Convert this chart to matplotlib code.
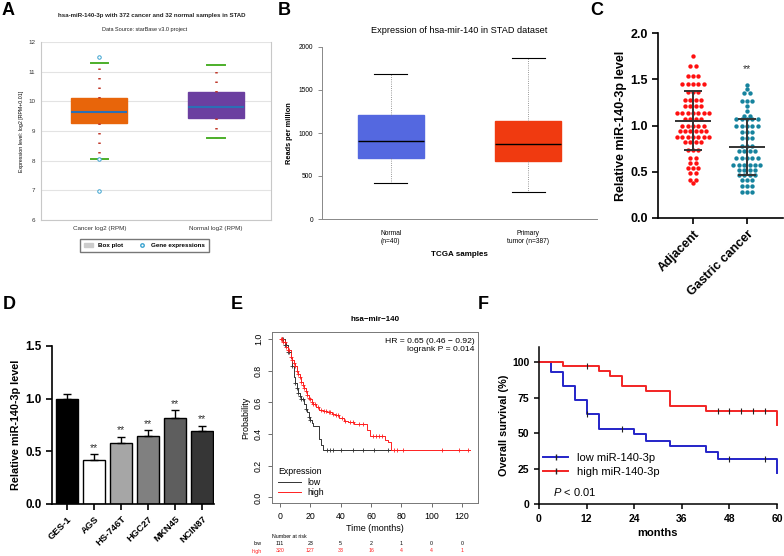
import matplotlib
matplotlib.use("Agg")
import matplotlib.pyplot as plt
import matplotlib.transforms as mtransforms
from matplotlib.patches import Patch
from matplotlib.lines import Line2D
import numpy as np

plt.rcParams["font.family"] = ["Liberation Sans", "DejaVu Sans"]
plt.rcParams["mathtext.fontset"] = "custom"
plt.rcParams["mathtext.it"] = "Liberation Sans:italic"
plt.rcParams["mathtext.rm"] = "Liberation Sans"

# ---- A: starBase box plot
a_groups = ["Cancer log2 (RPM)", "Normal log2 (RPM)"]
a_q1 = [9.28, 9.43]
a_med = [9.65, 9.82]
a_q3 = [10.10, 10.33]
a_lo = [8.05, 8.75]
a_hi = [11.30, 11.22]
a_outliers = [[11.50, 8.05, 6.97], []]
a_colors = ["#E8650A", "#6B3FA0"]

# ---- B: TCGA box plot
b_groups = ["Normal\n(n=40)", "Primary\ntumor (n=387)"]
b_q1 = [710, 670]
b_med = [905, 870]
b_q3 = [1210, 1135]
b_lo = [420, 310]
b_hi = [1685, 1870]
b_colors = ["#5468E0", "#F03A10"]

# ---- C: tissue scatter
c_groups = ["Adjacent", "Gastric cancer"]
c_adjacent = [1.75, 1.64, 1.64, 1.53, 1.53, 1.53,
              1.45, 1.45, 1.45, 1.45, 1.45, 1.36, 1.36, 1.36,
              1.28, 1.28, 1.28, 1.28, 1.21, 1.21, 1.21, 1.21,
              1.14, 1.14, 1.14, 1.14, 1.14, 1.14, 1.14,
              1.07, 1.07, 1.07, 1.07, 0.99, 0.99, 0.99, 0.99, 0.99,
              0.94, 0.94, 0.94, 0.94, 0.94, 0.94,
              0.88, 0.88, 0.88, 0.88, 0.88, 0.88, 0.88,
              0.82, 0.82, 0.82, 0.82, 0.74, 0.74, 0.74,
              0.65, 0.65, 0.60, 0.60, 0.54, 0.54, 0.54,
              0.49, 0.49, 0.41, 0.41, 0.38]
c_gastric = [1.44, 1.40, 1.35, 1.35, 1.26, 1.26, 1.26, 1.21, 1.16,
             1.10, 1.10, 1.07, 1.07, 1.07, 1.07, 1.07,
             0.99, 0.99, 0.99, 0.99, 0.99, 0.93, 0.93, 0.93,
             0.86, 0.86, 0.86, 0.78, 0.78, 0.78, 0.72, 0.72, 0.72, 0.72,
             0.645, 0.645, 0.645, 0.645, 0.645,
             0.57, 0.57, 0.57, 0.57, 0.57, 0.57,
             0.52, 0.52, 0.52, 0.52, 0.465, 0.465, 0.465, 0.465,
             0.41, 0.41, 0.41, 0.35, 0.35, 0.35, 0.285, 0.285, 0.285]
c_mean = [1.05, 0.77]
c_sd = [0.32, 0.30]
c_colors = ["#FF1010", "#16839E"]

# ---- D: cell lines
d_cells = ["GES-1", "AGS", "HS-746T", "HGC27", "MKN45", "NCIN87"]
d_values = [1.00, 0.42, 0.58, 0.65, 0.82, 0.69]
d_err = [0.04, 0.05, 0.06, 0.05, 0.07, 0.05]
d_colors = ["#000000", "#FFFFFF", "#A6A6A6", "#808080", "#5E5E5E", "#363636"]
d_stars = ["", "**", "**", "**", "**", "**"]

# ---- E: KM plotter
e_low_t = [0, 3, 5, 7, 8, 9, 10, 11, 12, 13, 14, 16, 17, 18, 19, 20, 21, 22, 26, 27, 28]
e_low_s = [1.0, 0.96, 0.92, 0.88, 0.83, 0.76, 0.72, 0.69, 0.66, 0.64, 0.62,
           0.59, 0.56, 0.54, 0.51, 0.49, 0.47, 0.45, 0.37, 0.33, 0.30]
e_low_end = 81
e_high_t = [0, 2, 4, 5, 7, 8, 9, 10, 11, 12, 13, 14, 15, 16, 17, 18, 19, 20, 21,
            22, 24, 26, 28, 31, 34, 36, 39, 42, 45, 49, 57, 59, 69, 71, 73]
e_high_s = [1.0, 0.98, 0.95, 0.93, 0.89, 0.87, 0.85, 0.83, 0.80, 0.78, 0.76,
            0.73, 0.71, 0.69, 0.67, 0.65, 0.63, 0.62, 0.60, 0.59, 0.57, 0.55,
            0.545, 0.54, 0.53, 0.52, 0.50, 0.485, 0.475, 0.465, 0.425, 0.39,
            0.36, 0.35, 0.30]
e_high_end = 125
e_low_cens = [1, 2, 3, 4, 5, 6, 8, 10, 11, 12, 13, 14, 15, 17, 19, 20,
              31, 33, 35, 40, 48, 55, 62, 71]
e_high_cens = [0.5, 1, 1.5, 2, 3, 4, 5, 6, 7, 8, 9, 10, 11, 12, 13, 14, 15, 16,
               17, 18, 19, 20, 21, 22, 23, 25, 27, 29, 30, 32, 33, 35, 37, 38,
               41, 43, 46, 48, 52, 55, 61, 63, 65, 67, 75, 77, 81, 107, 118, 124]
e_risk_times = [0, 20, 40, 60, 80, 100, 120]
e_risk_low = [111, 23, 5, 2, 1, 0, 0]
e_risk_high = [320, 127, 33, 16, 4, 4, 1]

# ---- F: clinical KM
f_low_t = [0, 3, 6, 9, 12, 15, 24, 27, 33, 42, 45, 60]
f_low_s = [100, 93.2, 83.0, 73.5, 63.2, 52.7, 49.0, 44.5, 40.7, 36.3, 32.0, 21.5]
f_high_t = [0, 6, 15, 18, 21, 27, 33, 42, 60]
f_high_s = [100, 97, 93.7, 90, 83, 79.6, 69, 65.6, 56]
f_low_cens = [12, 21, 48, 57]
f_high_cens = [12, 45, 48, 51, 54, 57]

W, H = 784, 556
fig = plt.figure(figsize=(W / 100, H / 100), dpi=100)


def rect(l, t, r, b):
    return [l / W, 1 - b / H, (r - l) / W, (b - t) / H]


def panel_label(x, y, s):
    fig.text(x / W, 1 - y / H, s, fontsize=13, fontweight="bold", va="top", ha="left")


def step_at(times, surv, t):
    i = np.searchsorted(times, t, side="right") - 1
    return np.asarray(surv)[i]


def swarm_offsets(values, step):
    values = np.asarray(values)
    offs = np.zeros(len(values))
    for v in np.unique(values):
        idx = np.where(values == v)[0]
        offs[idx] = (np.arange(len(idx)) - (len(idx) - 1) / 2) * step
    return offs


# ================= A
ax = fig.add_axes(rect(41, 42, 271, 220))
stats = []
for i in range(2):
    stats.append(dict(med=a_med[i], q1=a_q1[i], q3=a_q3[i], whislo=a_lo[i],
                      whishi=a_hi[i], fliers=a_outliers[i]))
bp = ax.bxp(stats, positions=[0, 1], widths=0.48, patch_artist=True,
            capwidths=0.15,
            medianprops=dict(color="#2B6FB5", lw=1.5),
            whiskerprops=dict(color="#C0392B", lw=1.8, linestyle=(0, (0.6, 3.2))),
            capprops=dict(color="#4CAF2A", lw=1.4),
            flierprops=dict(marker="o", mfc="white", mec="#3BA3D0", ms=2.5, mew=0.7))
for patch, col in zip(bp["boxes"], a_colors):
    patch.set_facecolor(col)
    patch.set_edgecolor(col)
ax.set_xlim(-0.5, 1.47)
ax.set_ylim(6, 12)
ax.set_yticks(range(6, 13))
ax.yaxis.grid(True, color="#E3E3E3", lw=0.8)
ax.set_axisbelow(True)
ax.set_xticks([0, 1])
ax.set_xticklabels(a_groups)
ax.tick_params(length=0, labelsize=4.5, colors="#333333", pad=4)
ax.spines["top"].set_visible(False)
for s in ["left", "bottom", "right"]:
    ax.spines[s].set_color("#C8C8C8")
    ax.spines[s].set_linewidth(0.8)
ax.set_ylabel("Expression level: log2 [RPM+0.01]", fontsize=3.8, labelpad=3)
ax.legend(handles=[Patch(color="#CCCCCC", label="Box plot"),
                   Line2D([], [], ls="none", marker="o", mfc="white", mec="#3BA3D0",
                          ms=2.5, label="Gene expressions")],
          loc="upper center", bbox_to_anchor=(0.45, -0.09), ncol=2,
          prop=dict(size=4.5, weight="bold"), frameon=True, fancybox=False,
          edgecolor="#555555", handlelength=1.5, columnspacing=2.2, borderpad=0.6)
fig.text(152 / W, 1 - 16 / H, "hsa-miR-140-3p with 372 cancer and 32 normal samples in STAD",
         fontsize=4.4, fontweight="bold", ha="center", va="center", color="#222222")
fig.text(145 / W, 1 - 29 / H, "Data Source: starBase v3.0 project",
         fontsize=4.0, ha="center", va="center", color="#222222")
panel_label(2, 2, "A")

# ================= B
ax = fig.add_axes(rect(322, 47, 597, 219))
stats = []
for i in range(2):
    stats.append(dict(med=b_med[i], q1=b_q1[i], q3=b_q3[i], whislo=b_lo[i],
                      whishi=b_hi[i], fliers=[]))
bp = ax.bxp(stats, positions=[0, 1], widths=0.48, patch_artist=True,
            medianprops=dict(color="black", lw=1.0),
            whiskerprops=dict(color="#777777", lw=0.6, linestyle=":"),
            capprops=dict(color="black", lw=0.8))
for patch, col in zip(bp["boxes"], b_colors):
    patch.set_facecolor(col)
    patch.set_edgecolor(col)
ax.set_xlim(-0.5, 1.5)
ax.set_ylim(0, 2000)
ax.set_yticks([0, 500, 1000, 1500, 2000])
ax.set_xticks([0, 1])
ax.set_xticklabels(b_groups, fontsize=4.8)
ax.tick_params(axis="y", labelsize=4.8, length=3, width=0.6, color="#777777")
ax.tick_params(axis="x", length=0, pad=8)
for s in ["top", "right"]:
    ax.spines[s].set_visible(False)
for s in ["left", "bottom"]:
    ax.spines[s].set_color("#888888")
    ax.spines[s].set_linewidth(0.7)
ax.set_ylabel("Reads per million", fontsize=5.3, fontweight="bold", labelpad=4)
ax.set_xlabel("TCGA samples", fontsize=5.8, fontweight="bold", labelpad=4)
ax.set_title("Expression of hsa-mir-140 in STAD dataset", fontsize=6.6, pad=10)
panel_label(278, 2, "B")

# ================= C
ax = fig.add_axes(rect(658, 33, 783, 218))
for i, vals in enumerate([c_adjacent, c_gastric]):
    x = i + swarm_offsets(vals, 0.1)
    ax.scatter(x, vals, s=10, color=c_colors[i], lw=0, zorder=2)
    ax.hlines(c_mean[i], i - 0.33, i + 0.33, color="#333333", lw=1.4, zorder=3)
    ax.vlines(i, c_mean[i] - c_sd[i], c_mean[i] + c_sd[i], color="#333333", lw=1.4, zorder=3)
    ax.hlines([c_mean[i] - c_sd[i], c_mean[i] + c_sd[i]], i - 0.17, i + 0.17,
              color="#333333", lw=1.4, zorder=3)
ax.text(1, 1.56, "**", ha="center", va="bottom", fontsize=7.5, color="#333333")
ax.set_xlim(-0.65, 1.67)
ax.set_ylim(0, 2.0)
ax.set_yticks([0, 0.5, 1.0, 1.5, 2.0])
ax.set_yticklabels(["0.0", "0.5", "1.0", "1.5", "2.0"])
ax.set_xticks([0, 1])
ax.set_xticklabels(c_groups, rotation=45, ha="right", rotation_mode="anchor")
for lab in ax.get_xticklabels() + ax.get_yticklabels():
    lab.set_fontweight("bold")
ax.tick_params(labelsize=9, width=1.2, length=4)
for s in ["top", "right"]:
    ax.spines[s].set_visible(False)
for s in ["left", "bottom"]:
    ax.spines[s].set_linewidth(1.2)
ax.set_ylabel("Relative miR-140-3p level", fontsize=9, fontweight="bold", labelpad=2)
panel_label(590, 2, "C")

# ================= D
ax = fig.add_axes(rect(52, 346, 214, 504))
xs = np.arange(len(d_cells))
ax.bar(xs, d_values, width=0.8, color=d_colors, edgecolor="black", lw=1.0,
       yerr=[np.zeros(len(d_err)), d_err], error_kw=dict(ecolor="black", elinewidth=1.0,
                                                       capsize=3, capthick=1.0))
for x, v, e, st in zip(xs, d_values, d_err, d_stars):
    if st:
        ax.text(x, v + e + 0.015, st, ha="center", va="bottom", fontsize=7.5, color="#333333")
ax.set_xlim(-0.56, 5.45)
ax.set_ylim(0, 1.5)
ax.set_yticks([0, 0.5, 1.0, 1.5])
ax.set_yticklabels(["0.0", "0.5", "1.0", "1.5"])
ax.set_xticks(xs)
ax.set_xticklabels(d_cells, rotation=45, ha="right", rotation_mode="anchor")
for lab in ax.get_yticklabels():
    lab.set_fontweight("bold")
    lab.set_fontsize(8.4)
for lab in ax.get_xticklabels():
    lab.set_fontweight("bold")
    lab.set_fontsize(6.8)
ax.tick_params(width=1.2, length=4)
for s in ["top", "right"]:
    ax.spines[s].set_visible(False)
for s in ["left", "bottom"]:
    ax.spines[s].set_linewidth(1.2)
ax.set_ylabel("Relative miR-140-3p level", fontsize=7.8, fontweight="bold", labelpad=3)
panel_label(3, 296, "D")

# ================= E
ax = fig.add_axes(rect(272, 332, 478, 503))
low_col, high_col = "#333333", "#FF2020"
ax.step(list(e_low_t) + [e_low_end], list(e_low_s) + [e_low_s[-1]], where="post",
        color=low_col, lw=0.7, label="low")
ax.step(list(e_high_t) + [e_high_end], list(e_high_s) + [e_high_s[-1]], where="post",
        color=high_col, lw=0.7, label="high")
ax.plot(e_low_cens, step_at(e_low_t, e_low_s, e_low_cens), ls="none", marker="+",
        ms=3, mew=0.6, color=low_col)
ax.plot(e_high_cens, step_at(e_high_t, e_high_s, e_high_cens), ls="none", marker="+",
        ms=3, mew=0.6, color=high_col)
ax.set_xlim(-5.3, 130.5)
ax.set_ylim(-0.035, 1.045)
ax.set_xticks(e_risk_times)
ax.set_yticks([0, 0.2, 0.4, 0.6, 0.8, 1.0])
ax.set_yticklabels(["0.0", "0.2", "0.4", "0.6", "0.8", "1.0"], rotation=90, va="center")
ax.tick_params(labelsize=6.3, length=3, width=0.6, color="#555555")
for s in ax.spines.values():
    s.set_color("#777777")
    s.set_linewidth(0.7)
ax.set_xlabel("Time (months)", fontsize=6.5, labelpad=2)
ax.set_ylabel("Probability", fontsize=6.5, labelpad=3)
ax.set_title("hsa\u2212mir\u2212140", fontsize=5.8, fontweight="bold", pad=8)
ax.text(0.985, 0.965, "HR = 0.65 (0.46 \u2212 0.92)\nlogrank P = 0.014", transform=ax.transAxes,
        ha="right", va="top", fontsize=6.1, linespacing=1.3)
ax.legend(title="Expression", loc="lower left", frameon=False, fontsize=6.3,
          title_fontsize=6.3, handlelength=2.6, borderaxespad=0.3,
          labelspacing=0.15, alignment="left", bbox_to_anchor=(0.0, 0.0))
trans = mtransforms.blended_transform_factory(ax.transData, fig.transFigure)
fig.text(272 / W, 1 - 536 / H, "Number at risk", fontsize=3.8, va="center", ha="left")
fig.text(262 / W, 1 - 543.5 / H, "low", fontsize=3.8, va="center", ha="right")
fig.text(262 / W, 1 - 551 / H, "high", fontsize=3.8, va="center", ha="right", color="#FF2020")
for t, nl, nh in zip(e_risk_times, e_risk_low, e_risk_high):
    ax.text(t, 1 - 543.5 / H, str(nl), transform=trans, fontsize=3.8, ha="center", va="center")
    ax.text(t, 1 - 551 / H, str(nh), transform=trans, fontsize=3.8, ha="center", va="center",
            color="#FF2020")
panel_label(231, 296, "E")

# ================= F
ax = fig.add_axes(rect(539, 347, 777, 504))
blue, red = "#2424C8", "#F22424"
ax.step(f_low_t, f_low_s, where="post", color=blue, lw=1.4, clip_on=False)
ax.step(f_high_t, f_high_s, where="post", color=red, lw=1.4, clip_on=False)
ax.plot(f_low_cens, step_at(f_low_t, f_low_s, f_low_cens), ls="none", marker="|",
        ms=4, mew=0.8, color="#222222")
ax.plot(f_high_cens, step_at(f_high_t, f_high_s, f_high_cens), ls="none", marker="|",
        ms=4, mew=0.8, color="#222222")
ax.set_xlim(0, 60)
ax.set_ylim(0, 110.6)
ax.set_xticks([0, 12, 24, 36, 48, 60])
ax.set_yticks([0, 25, 50, 75, 100])
for lab in ax.get_xticklabels() + ax.get_yticklabels():
    lab.set_fontweight("bold")
ax.tick_params(labelsize=7.5, width=1.1, length=3.5)
for s in ["top", "right"]:
    ax.spines[s].set_visible(False)
for s in ["left", "bottom"]:
    ax.spines[s].set_linewidth(1.1)
ax.set_xlabel("months", fontsize=8, fontweight="bold", labelpad=3)
ax.set_ylabel("Overall survival (%)", fontsize=7.8, fontweight="bold", labelpad=2)
handles = [Line2D([], [], color=blue, lw=1.4, marker="|", mec="#222222", ms=4,
                  label="low miR-140-3p"),
           Line2D([], [], color=red, lw=1.4, marker="|", mec="#222222", ms=4,
                  label="high miR-140-3p")]
ax.legend(handles=handles, loc="lower left", bbox_to_anchor=(-0.01, 0.13), frameon=False,
          fontsize=8, handlelength=2.2, labelspacing=0.35, borderaxespad=0.2)
ax.text(0.06, 0.075, r"$P$ < 0.01", transform=ax.transAxes, fontsize=8, va="center")
panel_label(478, 296, "F")

fig.savefig("out.png", dpi=100)
